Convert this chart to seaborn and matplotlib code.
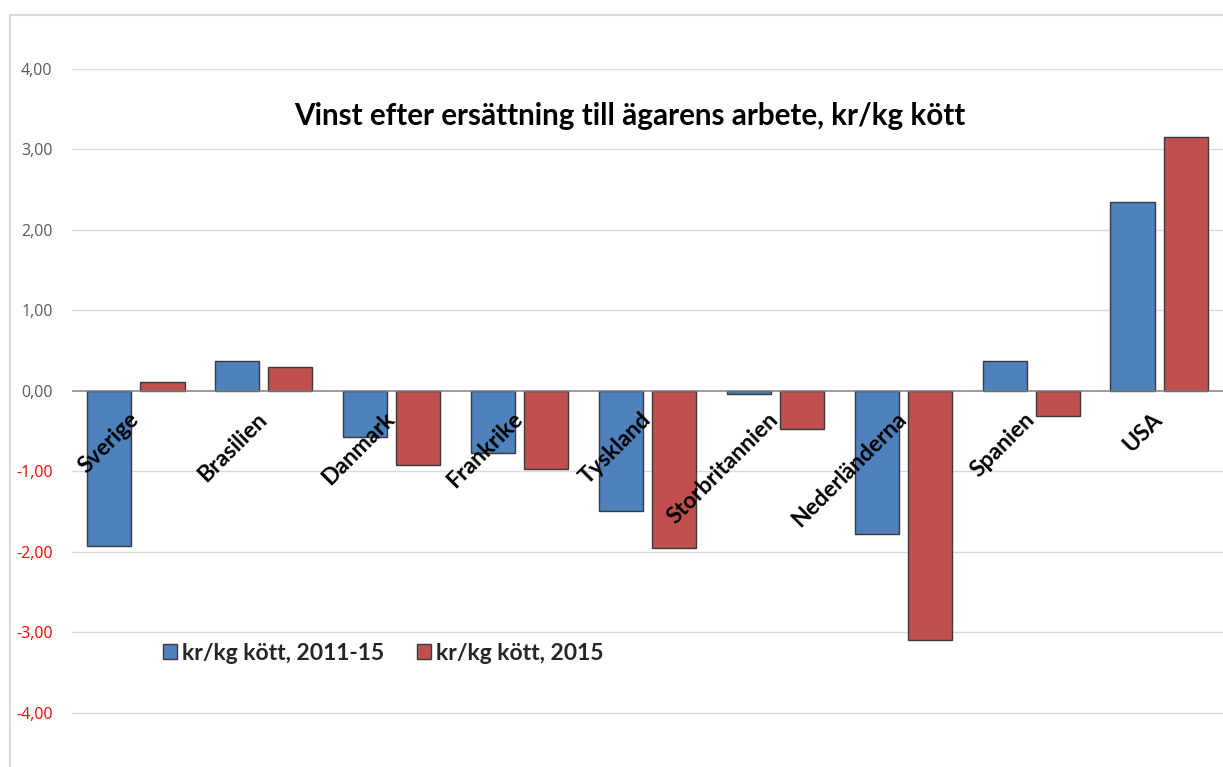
import matplotlib
matplotlib.use("Agg")
import matplotlib.pyplot as plt
from matplotlib.lines import Line2D
import numpy as np
import pandas as pd
import seaborn as sns

# data
countries = ["Sverige", "Brasilien", "Danmark", "Frankrike", "Tyskland",
             "Storbritannien", "Nederländerna", "Spanien", "USA"]
avg_2011_15 = [-1.93, 0.37, -0.57, -0.77, -1.49, -0.04, -1.78, 0.37, 2.35]
val_2015 = [0.11, 0.30, -0.92, -0.97, -1.95, -0.47, -3.10, -0.31, 3.15]
series_names = ["kr/kg kött, 2011-15", "kr/kg kött, 2015"]
yticks = [-4, -3, -2, -1, 0, 1, 2, 3, 4]
title = "Vinst efter ersättning till ägarens arbete, kr/kg kött"

df = pd.DataFrame({
    "land": countries * 2,
    "varde": avg_2011_15 + val_2015,
    "serie": [series_names[0]] * len(countries) + [series_names[1]] * len(countries),
})

sns.set_theme(style="white")
plt.rcParams["font.family"] = ["Lato", "DejaVu Sans"]

W, H = 1223, 767
fig = plt.figure(figsize=(W / 100, H / 100), dpi=100)
# axes: left edge at x=72px, top at y=69px (value 4), bottom at image bottom
top_px = 69
ax = fig.add_axes([72 / W, 0, 1 - 72 / W, 1 - top_px / H])

palette = {series_names[0]: "#4f81bd", series_names[1]: "#c0504d"}
sns.barplot(data=df, x="land", y="varde", hue="serie", palette=palette,
            width=0.83, gap=0.17, edgecolor="#3a3a3a", linewidth=1.0,
            saturation=1, ax=ax, zorder=3)

ax.set_ylim((391 - 767) / 80.4, 4.0)
ax.set_xlim(-0.5, len(countries) - 0.5)
for s in ax.spines.values():
    s.set_visible(False)

for t in yticks:
    if t == 0:
        ax.axhline(0, color="#7f7f7f", lw=1.1, zorder=4)
    else:
        ax.axhline(t, color="#d9d9d9", lw=1.0, zorder=1)

ax.set_yticks(yticks)
ax.set_yticklabels([f"{t:.2f}".replace(".", ",") for t in yticks],
                   fontsize=11.5, family=["Open Sans", "DejaVu Sans"])
for lab, t in zip(ax.get_yticklabels(), yticks):
    lab.set_color("#ff0000" if t < 0 else "#595959")
ax.tick_params(axis="y", length=0, pad=14)
ax.tick_params(axis="x", length=0)
ax.set_xticks([])
ax.set_xlabel("")
ax.set_ylabel("")

# rotated category labels just under the zero line
for i, name in enumerate(countries):
    ax.text(i - 0.06, -0.22, name, rotation=45, rotation_mode="anchor",
            ha="right", va="top", fontsize=16.5, fontweight="bold",
            color="black", zorder=5)

fig.text(630 / W, 1 - 116 / H, title, ha="center", va="center",
         fontsize=21.3, fontweight="bold", color="black")

handles, labels = ax.get_legend_handles_labels()
ax.legend(handles, labels, loc="center left",
          bbox_to_anchor=(163 / W, 1 - 653 / H), bbox_transform=fig.transFigure,
          ncol=2, frameon=False, handlelength=0.61, handleheight=0.61,
          handletextpad=0.22, columnspacing=1.44, borderpad=0,
          borderaxespad=0, prop={"weight": "bold", "size": 16.5})

# chart-area border, cut off at right and bottom
fig.add_artist(Line2D([10 / W, 10 / W], [0, 1 - 15 / H], color="#d9d9d9",
                      lw=1.5, transform=fig.transFigure))
fig.add_artist(Line2D([10 / W, 1], [1 - 15 / H, 1 - 15 / H], color="#d9d9d9",
                      lw=1.5, transform=fig.transFigure))

fig.savefig("out.png", dpi=100)
